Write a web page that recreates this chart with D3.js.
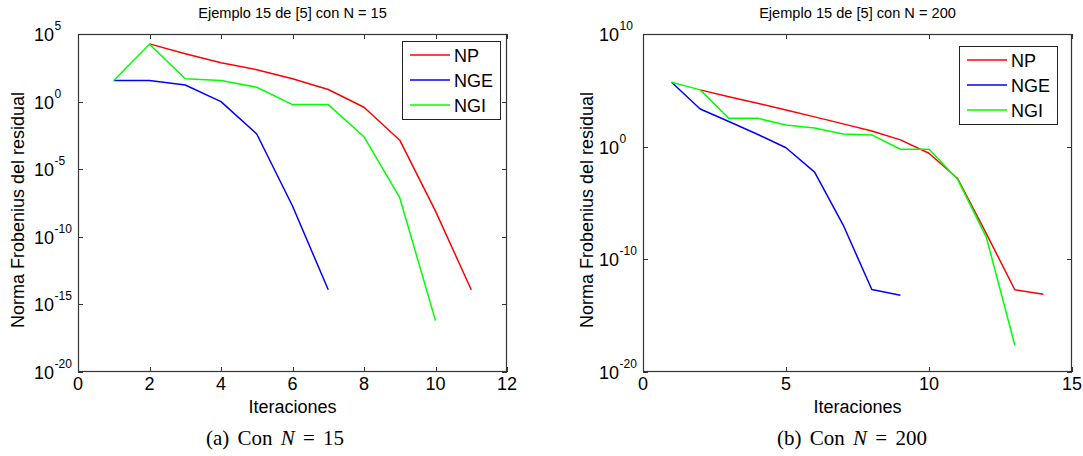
<!DOCTYPE html>
<html><head><meta charset="utf-8">
<script src="https://cdn.jsdelivr.net/npm/d3@7"></script>
<style>
body{margin:0;background:#fff}
svg{display:block}
text{font-family:"Liberation Sans",Arial,Helvetica,sans-serif;fill:#000}
</style>
</head><body>
<svg id="c" width="1083" height="456"></svg>
<script>
// ---------- data ----------
const seriesNames = ["NP", "NGE", "NGI"];
const seriesColors = ["#ff0000", "#0000ff", "#00ff00"];

// Panel (a): N = 15
const titleA = "Ejemplo 15 de [5] con N = 15";
const iterA_NP  = [2, 3, 4, 5, 6, 7, 8, 9, 10, 11];
const valA_NP   = [1.86e4, 3.5e3, 7.6e2, 2.3e2, 49, 7.8, 0.38, 1.4e-3, 7.9e-9, 1.2e-14];
const iterA_NGE = [1, 2, 3, 4, 5, 6, 7];
const valA_NGE  = [36, 36, 17, 1.0, 4e-3, 1.9e-8, 1.2e-14];
const iterA_NGI = [1, 2, 3, 4, 5, 6, 7, 8, 9, 10];
const valA_NGI  = [36, 1.75e4, 49, 36, 11.5, 0.6, 0.6, 2.5e-3, 7.8e-8, 6.3e-17];
const xTicksA = [0, 2, 4, 6, 8, 10, 12];
const yTickExpA = [-20, -15, -10, -5, 0, 5];
const captionA = ["(a) Con ", "N", " = 15"];

// Panel (b): N = 200
const titleB = "Ejemplo 15 de [5] con N = 200";
const iterB_NP  = [2, 3, 4, 5, 6, 7, 8, 9, 10, 11, 12, 13, 14];
const valB_NP   = [1.1e5, 2.75e4, 7.2e3, 1.8e3, 4.4e2, 1.05e2, 25, 4, 0.26, 1.5e-3, 2e-8, 2e-13, 8e-14];
const iterB_NGE = [1, 2, 3, 4, 5, 6, 7, 8, 9];
const valB_NGE  = [5.2e5, 2.2e3, 1.7e2, 12.6, 0.8, 5.5e-3, 1.1e-7, 2.1e-13, 6.6e-14];
const iterB_NGI = [1, 2, 3, 4, 5, 6, 7, 8, 9, 10, 11, 12, 13];
const valB_NGI  = [5.2e5, 1.1e5, 3.3e2, 3.3e2, 85, 45, 13.5, 11, 0.59, 0.59, 1.26e-3, 1e-8, 2.5e-18];
const xTicksB = [0, 5, 10, 15];
const yTickExpB = [-20, -10, 0, 10];
const captionB = ["(b) Con ", "N", " = 200"];

const xLabel = "Iteraciones";
const yLabel = "Norma Frobenius del residual";

// ---------- drawing ----------
const svg = d3.select("#c");

function panel(cfg) {
  const {x0, x1, y0, y1} = cfg;
  const x = d3.scaleLinear().domain(cfg.xDomain).range([x0, x1]);
  const y = d3.scaleLog().domain(cfg.yDomain).range([y1, y0]);
  const g = svg.append("g");
  const axisColor = "#333";
  const tk = 5;

  g.append("rect").attr("x", x0).attr("y", y0).attr("width", x1 - x0).attr("height", y1 - y0)
    .attr("fill", "#fff").attr("stroke", "none");

  // x ticks (bottom + top, inward)
  cfg.xTicks.forEach(t => {
    const px = Math.round(x(t)) + 0.5;
    g.append("line").attr("x1", px).attr("x2", px).attr("y1", y1).attr("y2", y1 - tk).attr("stroke", axisColor);
    g.append("line").attr("x1", px).attr("x2", px).attr("y1", y0).attr("y2", y0 + tk).attr("stroke", axisColor);
    g.append("text").attr("x", x(t)).attr("y", y1 + 18).attr("text-anchor", "middle")
      .attr("font-size", 18).text(t);
  });
  // y ticks (left + right, inward)
  cfg.yTickExp.forEach(e => {
    const py = Math.round(y(Math.pow(10, e))) + 0.5;
    g.append("line").attr("x1", x0).attr("x2", x0 + tk).attr("y1", py).attr("y2", py).attr("stroke", axisColor);
    g.append("line").attr("x1", x1).attr("x2", x1 - tk).attr("y1", py).attr("y2", py).attr("stroke", axisColor);
    g.append("text").attr("x", x0 - 24).attr("y", py + 6.5).attr("text-anchor", "end")
      .attr("font-size", 18).text("10");
    g.append("text").attr("x", x0 - 23.5).attr("y", py - 4.5).attr("text-anchor", "start")
      .attr("font-size", 12).text(String(e));
  });

  // series
  const line = d3.line().x(d => x(d[0])).y(d => y(d[1]));
  cfg.series.forEach((s, i) => {
    const pts = s.iters.map((it, k) => [it, s.vals[k]]);
    g.append("path").datum(pts).attr("d", line).attr("fill", "none")
      .attr("stroke", seriesColors[i]).attr("stroke-width", 1.5).attr("stroke-linejoin", "round");
  });

  // box
  g.append("rect").attr("x", x0 + 0.5).attr("y", y0 + 0.5).attr("width", x1 - x0 - 1).attr("height", y1 - y0 - 1)
    .attr("fill", "none").attr("stroke", axisColor).attr("stroke-width", 1.2);

  // legend
  const L = cfg.legend;
  g.append("rect").attr("x", L.x + 0.5).attr("y", L.y + 0.5).attr("width", L.w).attr("height", L.h)
    .attr("fill", "#fff").attr("stroke", "#222").attr("stroke-width", 1);
  seriesNames.forEach((n, i) => {
    const ry = L.y + 14 + i * 25;
    g.append("line").attr("x1", L.x + 8).attr("x2", L.x + 48).attr("y1", ry).attr("y2", ry)
      .attr("stroke", seriesColors[i]).attr("stroke-width", 1.5);
    g.append("text").attr("x", L.x + 52).attr("y", ry + 6.5).attr("font-size", 18).text(n);
  });

  // title
  g.append("text").attr("x", (x0 + x1) / 2).attr("y", 18).attr("text-anchor", "middle")
    .attr("font-size", 14.6).text(cfg.title);
  // x label
  g.append("text").attr("x", (x0 + x1) / 2).attr("y", 413).attr("text-anchor", "middle")
    .attr("font-size", 18).text(xLabel);
  // y label
  g.append("text").attr("transform", `translate(${cfg.yLabelX},${(y0 + y1) / 2 + 7}) rotate(-90)`)
    .attr("text-anchor", "middle").attr("font-size", 18).text(yLabel);
  // caption
  const cap = g.append("text").attr("x", cfg.capX).attr("y", 445).attr("text-anchor", "middle")
    .attr("font-size", 21).attr("word-spacing", 3)
    .style("font-family", "'Liberation Serif','DejaVu Serif',serif");
  cap.append("tspan").text(cfg.caption[0]);
  cap.append("tspan").attr("font-style", "italic").text(cfg.caption[1]);
  cap.append("tspan").text(cfg.caption[2]);
}

panel({
  x0: 78, x1: 507, y0: 34, y1: 372,
  xDomain: [0, 12], yDomain: [1e-20, 1e5],
  xTicks: xTicksA, yTickExp: yTickExpA,
  series: [
    {iters: iterA_NP, vals: valA_NP},
    {iters: iterA_NGE, vals: valA_NGE},
    {iters: iterA_NGI, vals: valA_NGI}
  ],
  legend: {x: 402, y: 41, w: 98, h: 78},
  title: titleA, yLabelX: 24, capX: 275, caption: captionA
});

panel({
  x0: 643, x1: 1072, y0: 34, y1: 372,
  xDomain: [0, 15], yDomain: [1e-20, 1e10],
  xTicks: xTicksB, yTickExp: yTickExpB,
  series: [
    {iters: iterB_NP, vals: valB_NP},
    {iters: iterB_NGE, vals: valB_NGE},
    {iters: iterB_NGI, vals: valB_NGI}
  ],
  legend: {x: 959, y: 46, w: 98, h: 78},
  title: titleB, yLabelX: 593, capX: 852, caption: captionB
});
</script>
</body></html>
